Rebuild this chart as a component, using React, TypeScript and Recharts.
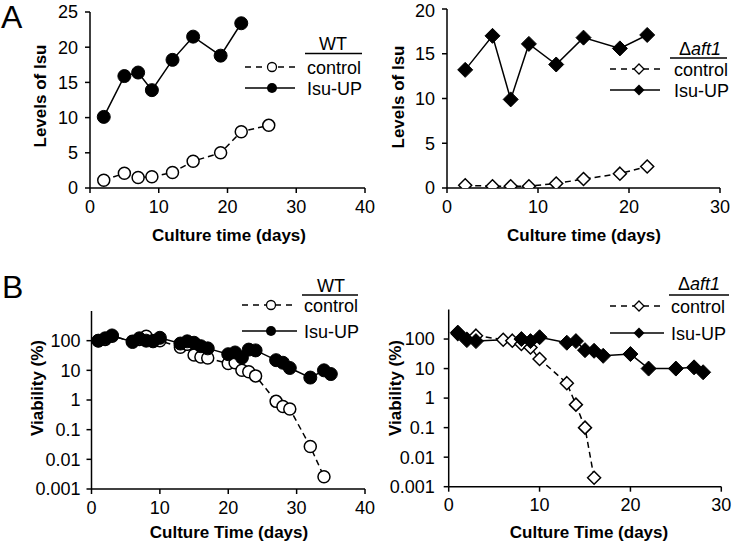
import React from 'react';
import { LineChart, Line, XAxis, YAxis } from 'recharts';

const FONT = '"Liberation Sans", Arial, Helvetica, sans-serif';

// Panel A – Isu levels
const aWtIsuDays = [2, 5, 7, 9, 12, 15, 19, 22];
const aWtIsuLevels = [10.1, 15.9, 16.4, 13.9, 18.2, 21.5, 18.8, 23.4];
const aWtCtrlDays = [2, 5, 7, 9, 12, 15, 19, 22, 26];
const aWtCtrlLevels = [1.1, 2.1, 1.5, 1.6, 2.2, 3.8, 5.0, 8.0, 8.9];
const aAftDays = [2, 5, 7, 9, 12, 15, 19, 22];
const aAftIsuLevels = [13.2, 17.0, 9.9, 16.1, 13.8, 16.8, 15.6, 17.1];
const aAftCtrlLevels = [0.3, 0.2, 0.2, 0.2, 0.5, 1.0, 1.6, 2.4];

// Panel B – viability (%)
const bWtIsuDays = [1, 2, 3, 6, 7, 8, 9, 10, 13, 14, 15, 16, 17, 20, 21, 22, 23, 24, 27, 28, 29, 32, 34, 35];
const bWtIsuViab = [100, 120, 150, 90, 120, 100, 95, 125, 80, 95, 85, 65, 55, 35, 40, 27, 50, 47, 22, 18, 12, 5.7, 10, 7.5];
const bWtCtrlDays = [1, 2, 3, 6, 7, 8, 9, 10, 13, 14, 15, 16, 17, 20, 21, 22, 23, 24, 27, 28, 29, 32, 34];
const bWtCtrlViab = [100, 110, 140, 95, 110, 140, 100, 100, 60, 75, 33, 28, 26, 17, 18, 10, 9, 6.5, 0.9, 0.6, 0.5, 0.027, 0.0026];
const bAftIsuDays = [1, 2, 3, 8, 9, 10, 13, 14, 15, 16, 17, 20, 22, 25, 27, 28];
const bAftIsuViab = [165, 92, 85, 100, 85, 115, 75, 85, 42, 40, 27, 31, 10, 10, 11, 7.5];
const bAftCtrlDays = [1, 2, 3, 6, 7, 8, 9, 10, 13, 14, 15, 16];
const bAftCtrlViab = [150, 100, 130, 95, 88, 68, 52, 21, 3.2, 0.6, 0.1, 0.002];

const xTicksWt = [0, 10, 20, 30, 40];
const xTicksAft = [0, 10, 20, 30];
const yTicksWtA = [0, 5, 10, 15, 20, 25];
const yTicksAftA = [0, 5, 10, 15, 20];
const yTicksLog = [0.001, 0.01, 0.1, 1, 10, 100];

const toData = (days: number[], vals: number[]) => days.map((d, i) => ({ d, v: vals[i] }));

const openCircle = (r: number) => (p: any) => (
  <circle key={`oc-${p.index}`} cx={p.cx} cy={p.cy} r={r} fill="#fff" stroke="#000" strokeWidth={1.5} />
);
const filledCircle = (r: number) => (p: any) => (
  <circle key={`fc-${p.index}`} cx={p.cx} cy={p.cy} r={r} fill="#000" stroke="#000" strokeWidth={1} />
);
const diamondPts = (cx: number, cy: number, h: number) =>
  `${cx},${cy - h} ${cx + h},${cy} ${cx},${cy + h} ${cx - h},${cy}`;
const openDiamond = (h: number) => (p: any) => (
  <polygon key={`od-${p.index}`} points={diamondPts(p.cx, p.cy, h)} fill="#fff" stroke="#000" strokeWidth={1.5} />
);
const filledDiamond = (h: number) => (p: any) => (
  <polygon key={`fd-${p.index}`} points={diamondPts(p.cx, p.cy, h)} fill="#000" stroke="#000" strokeWidth={1} />
);

const tickStyle = { fill: '#000', fontSize: 18, fontFamily: FONT };
const axisLine = { stroke: '#000', strokeWidth: 1.5 };

const xTitle = (x: number, y: number, text: string) => () => (
  <text x={x} y={y} textAnchor="middle" fontFamily={FONT} fontSize={17} fontWeight="bold" fill="#000">
    {text}
  </text>
);
const yTitle = (x: number, y: number, text: string) => () => (
  <text x={x} y={y} transform={`rotate(-90, ${x}, ${y})`} textAnchor="middle" fontFamily={FONT} fontSize={17} fontWeight="bold" fill="#000">
    {text}
  </text>
);

type PanelProps = {
  left: number; top: number; w: number; h: number;
  margin: { top: number; right: number; left: number; bottom: number };
  yWidth: number; xHeight: number;
  xDomain: [number, number]; xTicks: number[];
  log: boolean; yDomain: [number, number]; yTicks: number[];
  yTickMargin: number;
  xLab: [number, number, string]; yLab: [number, number, string];
  ctrl: { d: number; v: number }[]; isu: { d: number; v: number }[];
  ctrlDot: any; isuDot: any; isuFirst?: boolean;
};

function Panel(p: PanelProps) {
  const ctrlLine = (
    <Line key="ctrl" data={p.ctrl} dataKey="v" type="linear" stroke="#000" strokeWidth={1.5}
      strokeDasharray="6 4" dot={p.ctrlDot} activeDot={false} isAnimationActive={false} />
  );
  const isuLine = (
    <Line key="isu" data={p.isu} dataKey="v" type="linear" stroke="#000" strokeWidth={1.5}
      dot={p.isuDot} activeDot={false} isAnimationActive={false} />
  );
  return (
    <div style={{ position: 'absolute', left: p.left, top: p.top, width: p.w, height: p.h }}>
      <LineChart width={p.w} height={p.h} margin={p.margin}>
        <XAxis type="number" dataKey="d" domain={p.xDomain} ticks={p.xTicks} allowDataOverflow
          height={p.xHeight} tickSize={5} tickMargin={7} axisLine={axisLine} tickLine={axisLine}
          tick={tickStyle} label={xTitle(p.xLab[0], p.xLab[1], p.xLab[2])} />
        <YAxis type="number" scale={p.log ? 'log' : 'linear'} domain={p.yDomain} ticks={p.yTicks}
          allowDataOverflow width={p.yWidth} tickSize={5} tickMargin={p.yTickMargin}
          axisLine={axisLine} tickLine={axisLine} tick={tickStyle}
          tickFormatter={(v: number) => String(v)}
          label={yTitle(p.yLab[0], p.yLab[1], p.yLab[2])} />
        {p.isuFirst ? [isuLine, ctrlLine] : [ctrlLine, isuLine]}
      </LineChart>
    </div>
  );
}

function LegendBlock(props: { cx: number; titleBase: number; ulX1: number; ulX2: number; ulY: number;
  lx1: number; lx2: number; mx: number; tx: number; cy1: number; cy2: number; diamond: boolean; wt: boolean }) {
  const q = props;
  const txt = { fontFamily: FONT, fontSize: 18, fill: '#000' } as const;
  return (
    <g>
      {q.wt ? (
        <text x={q.cx} y={q.titleBase} textAnchor="middle" {...txt}>WT</text>
      ) : (
        <text x={q.cx} y={q.titleBase} textAnchor="middle" {...txt}>
          <tspan>Δ</tspan><tspan fontStyle="italic">aft1</tspan>
        </text>
      )}
      <line x1={q.ulX1} x2={q.ulX2} y1={q.ulY} y2={q.ulY} stroke="#000" strokeWidth={1.5} />
      <line x1={q.lx1} x2={q.lx2} y1={q.cy1} y2={q.cy1} stroke="#000" strokeWidth={1.5} strokeDasharray="6 5" />
      {q.diamond ? (
        <polygon points={diamondPts(q.mx, q.cy1, 5)} fill="#fff" stroke="#000" strokeWidth={1.3} />
      ) : (
        <circle cx={q.mx} cy={q.cy1} r={4.5} fill="#fff" stroke="#000" strokeWidth={1.3} />
      )}
      <text x={q.tx} y={q.cy1 + 6.5} {...txt}>control</text>
      <line x1={q.lx1} x2={q.lx2} y1={q.cy2} y2={q.cy2} stroke="#000" strokeWidth={1.5} />
      {q.diamond ? (
        <polygon points={diamondPts(q.mx, q.cy2, 5.5)} fill="#000" />
      ) : (
        <circle cx={q.mx} cy={q.cy2} r={5} fill="#000" />
      )}
      <text x={q.tx} y={q.cy2 + 6.5} {...txt}>Isu-UP</text>
    </g>
  );
}

export default function App() {
  return (
    <div style={{ position: 'absolute', left: 0, top: 0, width: 734, height: 543, overflow: 'hidden', background: '#fff' }}>
      <Panel left={0} top={0} w={380} h={260} margin={{ top: 12, right: 15, left: 0, bottom: 0 }}
        yWidth={90} xHeight={72} xDomain={[0, 40]} xTicks={xTicksWt} log={false} yDomain={[0, 25]} yTicks={yTicksWtA}
        yTickMargin={7} xLab={[229, 241, 'Culture time (days)']} yLab={[46, 96, 'Levels of Isu']}
        ctrl={toData(aWtCtrlDays, aWtCtrlLevels)} isu={toData(aWtIsuDays, aWtIsuLevels)}
        ctrlDot={openCircle(6)} isuDot={filledCircle(6.5)} />
      <Panel left={357} top={0} w={377} h={260} margin={{ top: 9, right: 14, left: 0, bottom: 0 }}
        yWidth={90} xHeight={72} xDomain={[0, 30]} xTicks={xTicksAft} log={false} yDomain={[0, 20]} yTicks={yTicksAftA}
        yTickMargin={7} xLab={[227, 241, 'Culture time (days)']} yLab={[47, 97, 'Levels of Isu']}
        ctrl={toData(aAftDays, aAftCtrlLevels)} isu={toData(aAftDays, aAftIsuLevels)}
        ctrlDot={openDiamond(6.5)} isuDot={filledDiamond(7.5)} />
      <Panel left={0} top={290} w={380} h={253} margin={{ top: 21, right: 15, left: 0, bottom: 0 }}
        yWidth={91.5} xHeight={54} xDomain={[0, 40]} xTicks={xTicksWt} log={true} yDomain={[0.001, 1000]} yTicks={yTicksLog}
        yTickMargin={6} xLab={[229, 248, 'Culture Time (days)']} yLab={[43, 98, 'Viability (%)']}
        ctrl={toData(bWtCtrlDays, bWtCtrlViab)} isu={toData(bWtIsuDays, bWtIsuViab)}
        ctrlDot={openCircle(6)} isuDot={filledCircle(6.5)} />
      <Panel left={357} top={290} w={377} h={253} margin={{ top: 19.5, right: 12.7, left: 0, bottom: 0 }}
        yWidth={91.7} xHeight={56.3} xDomain={[0, 30]} xTicks={xTicksAft} log={true} yDomain={[0.001, 1000]} yTicks={yTicksLog}
        yTickMargin={9} xLab={[232, 248, 'Culture Time (days)']} yLab={[44, 98, 'Viability (%)']}
        ctrl={toData(bAftCtrlDays, bAftCtrlViab)} isu={toData(bAftIsuDays, bAftIsuViab)}
        ctrlDot={openDiamond(6.5)} isuDot={filledDiamond(7.5)} />
      <svg width={734} height={543} style={{ position: 'absolute', left: 0, top: 0, pointerEvents: 'none' }}>
        <text x={1} y={28} fontFamily={FONT} fontSize={32} fill="#000">A</text>
        <text x={2} y={298} fontFamily={FONT} fontSize={32} fill="#000">B</text>
        <LegendBlock wt cx={333} titleBase={50} ulX1={305} ulX2={362} ulY={53.5}
          lx1={245} lx2={295} mx={272} tx={307} cy1={67} cy2={88} diamond={false} />
        <LegendBlock wt={false} cx={700} titleBase={55} ulX1={670} ulX2={727} ulY={58}
          lx1={610} lx2={660} mx={639} tx={674} cy1={69} cy2={90} diamond={true} />
        <LegendBlock wt cx={331} titleBase={292} ulX1={302} ulX2={358} ulY={295}
          lx1={242} lx2={297} mx={271} tx={304} cy1={305} cy2={331} diamond={false} />
        <LegendBlock wt={false} cx={699} titleBase={290} ulX1={669} ulX2={729} ulY={295}
          lx1={610} lx2={664} mx={639} tx={671} cy1={306} cy2={333} diamond={true} />
      </svg>
    </div>
  );
}
